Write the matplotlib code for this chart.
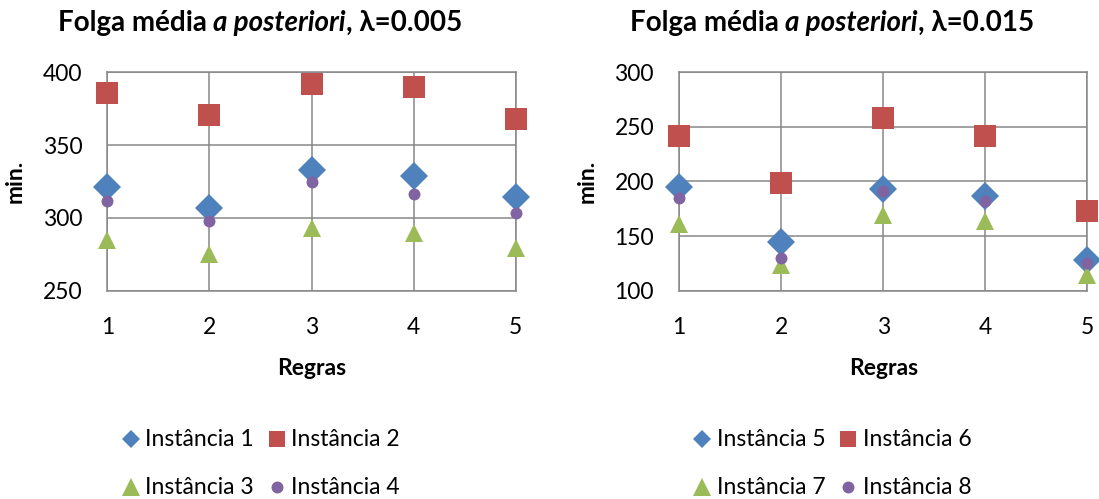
import matplotlib
matplotlib.use("Agg")
import matplotlib.pyplot as plt
from matplotlib.lines import Line2D

plt.rcParams['font.family'] = ['Lato', 'DejaVu Sans']

regras = [1, 2, 3, 4, 5]

# lambda = 0.005
inst1 = [321.5, 307.0, 332.7, 328.6, 314.4]
inst2 = [385.8, 370.9, 391.8, 390.2, 368.2]
inst3 = [284.8, 275.4, 293.3, 289.4, 279.6]
inst4 = [311.4, 297.6, 324.9, 316.2, 303.1]

# lambda = 0.015
inst5 = [195.0, 144.3, 193.1, 187.0, 128.1]
inst6 = [241.4, 198.9, 258.5, 241.4, 172.7]
inst7 = [161.4, 123.2, 169.0, 163.8, 114.7]
inst8 = [184.6, 130.2, 191.3, 182.4, 125.6]

titulos = ['0.005', '0.015']
nomes_esq = ['Instância 1', 'Instância 2', 'Instância 3', 'Instância 4']
nomes_dir = ['Instância 5', 'Instância 6', 'Instância 7', 'Instância 8']

azul, vermelho, verde, roxo = '#4F81BD', '#C0504D', '#9BBB59', '#8064A2'
cinza = '#878787'

W, H = 1099, 499
fig = plt.figure(figsize=(W / 100, H / 100), dpi=100)


def px(x, y):
    # pixel (topo-esquerda) -> fração da figura
    return x / W, 1 - y / H


estilos = [('D', azul, 14.5), ('s', vermelho, 16.5), ('^', verde, 12.6), ('o', roxo, 8.6)]
estilos_leg = [('D', azul, 9.0), ('s', vermelho, 12.2), ('^', verde, 12.4), ('o', roxo, 8.6)]

fs = 16.5


def grafico(x0, series, ylim, yticks, lam, nomes):
    ax = fig.add_axes([x0 / W, 1 - 290.7 / H, 408.4 / W, 218.4 / H])
    for vals, (m, c, ms) in zip(series, estilos):
        ax.plot(regras, vals, linestyle='none', marker=m, color=c,
                markersize=ms, markeredgewidth=0, clip_on=False, zorder=3)
    ax.set_xlim(1, 5)
    ax.set_ylim(*ylim)
    ax.set_yticks(yticks)
    ax.set_xticks(regras)
    ax.grid(True, color=cinza, linewidth=1.1)
    ax.set_axisbelow(True)
    for s in ax.spines.values():
        s.set_color(cinza)
        s.set_linewidth(1.1)
    ax.tick_params(length=0, labelsize=fs, colors='black')
    ax.tick_params(axis='y', pad=18)
    ax.tick_params(axis='x', pad=19)
    ax.set_xlabel('Regras', fontsize=fs, fontweight='bold', labelpad=14)
    ax.set_ylabel('min.', fontsize=fs, fontweight='bold', labelpad=12)

    # título com trecho em itálico
    partes = [('Folga média ', 'normal'), ('a posteriori', 'italic'), (', λ=' + lam, 'normal')]
    r = fig.canvas.get_renderer()
    textos = []
    for t, st in partes:
        textos.append(fig.text(0, 0, t, fontsize=20, fontweight='bold', style=st,
                               va='baseline', ha='left'))
    larguras = [t.get_window_extent(r).width for t in textos]
    xc = x0 - 107.3 + 260
    xi = xc - sum(larguras) / 2
    for t, w in zip(textos, larguras):
        t.set_position(px(xi, 31))
        xi += w

    # legenda em duas linhas
    colx = [x0 - 107.3 + 130.5, x0 - 107.3 + 276.5]
    liny = [439, 487]
    for i, (nome, (m, c, ms)) in enumerate(zip(nomes, estilos_leg)):
        cx, cy = colx[i % 2], liny[i // 2]
        fx, fy = px(cx, cy)
        fig.add_artist(Line2D([fx], [fy], marker=m, color=c, markersize=ms,
                              markeredgewidth=0, linestyle='none'))
        tx, ty = px(cx + 14.5, cy)
        fig.text(tx, ty, nome, fontsize=fs, va='center', ha='left')
    return ax


grafico(107.3, [inst1, inst2, inst3, inst4], (250, 400), [250, 300, 350, 400], titulos[0], nomes_esq)
grafico(679.0, [inst5, inst6, inst7, inst8], (100, 300), [100, 150, 200, 250, 300], titulos[1], nomes_dir)

fig.savefig('out.png', dpi=100, facecolor='white')
